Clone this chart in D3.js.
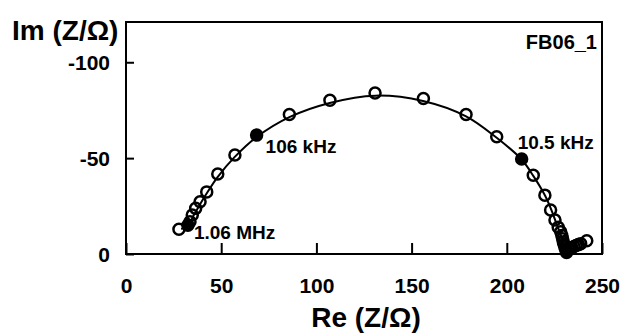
<!DOCTYPE html>
<html>
<head>
<meta charset="utf-8">
<script src="https://cdn.jsdelivr.net/npm/d3@7"></script>
<style>
  html, body { margin: 0; padding: 0; background: #fff; }
  svg { display: block; font-family: "Liberation Sans", Arial, sans-serif; font-weight: bold; }
</style>
</head>
<body>
<svg id="chart" width="628" height="333"></svg>
<script>
// Nyquist plot of sample FB06_1: measured impedance (open circles) and fitted curve.
// Values are Re(Z) and -Im(Z) in ohms.
const measRe = [27.8, 33.6, 34.8, 36.6, 38.9, 42.4, 48.2, 57.2, 85.8, 107.1, 130.8, 156.2, 178.6, 194.7,
                213.9, 220.0, 223.0, 225.3, 227.0, 228.3, 228.9, 229.3, 229.7, 230.1, 230.5, 230.9,
                231.6, 232.6, 233.4, 234.2, 235.3, 236.4, 237.6, 238.8, 242.0];
const measIm = [12.9, 16.8, 20.3, 23.8, 27.2, 32.4, 41.7, 51.6, 72.8, 80.2, 84.0, 81.1, 72.8, 61.1,
                41.1, 30.7, 22.9, 17.7, 13.9, 11.6, 9.6, 7.9, 6.3, 4.9, 3.6, 2.4,
                1.8, 2.6, 3.0, 3.4, 3.9, 4.4, 4.9, 5.4, 6.9];

// Decade frequencies marked with filled dots
const markRe = [32.5, 68.6, 207.8, 231.4];
const markIm = [15.0, 62.0, 49.5, 0.8];
const markLabels = ["1.06 MHz", "106 kHz", "10.5 kHz", ""];

// Fitted equivalent-circuit curve
const fitRe = [29.0, 32.5, 36.0, 42.0, 48.0, 57.0, 68.6, 85.8, 107.0, 131.0, 156.0, 178.6, 194.7,
               207.8, 214.0, 220.0, 223.5, 226.0, 228.3, 230.2, 231.4];
const fitIm = [13.0, 15.0, 21.0, 31.0, 40.0, 50.5, 61.0, 71.4, 78.8, 82.6, 79.8, 71.8, 60.6,
               49.3, 40.6, 30.6, 22.8, 16.0, 10.0, 4.5, 0.8];

const xTicks = [0, 50, 100, 150, 200, 250];
const yTicks = [0, 50, 100];
const sampleName = "FB06_1";

const margin = { left: 126, top: 22, right: 26, bottom: 79 };
const W = 628, H = 333;
const svg = d3.select("#chart");

const x = d3.scaleLinear().domain([0, 250]).range([margin.left, W - margin.right]);
const y = d3.scaleLinear().domain([0, 121]).range([H - margin.bottom, margin.top]);

// Frame
svg.append("rect")
  .attr("x", x(0)).attr("y", y(121))
  .attr("width", x(250) - x(0)).attr("height", y(0) - y(121))
  .attr("fill", "none").attr("stroke", "#000").attr("stroke-width", 2);

// Axes with inward ticks
const xAxis = svg.append("g")
  .attr("transform", `translate(0,${y(0)})`)
  .call(d3.axisBottom(x).tickValues(xTicks).tickSizeInner(-11).tickSizeOuter(0).tickPadding(24));
const yAxis = svg.append("g")
  .attr("transform", `translate(${x(0)},0)`)
  .call(d3.axisLeft(y).tickValues(yTicks).tickSizeInner(-8).tickSizeOuter(0).tickPadding(16)
        .tickFormat(d => d === 0 ? "0" : "-" + d));
[xAxis, yAxis].forEach(g => {
  g.select(".domain").remove();
  g.selectAll(".tick line").attr("stroke", "#000").attr("stroke-width", 2);
  g.selectAll(".tick text").attr("fill", "#000").style("font-size", "21px")
    .style("font-family", "'Liberation Sans', Arial, sans-serif").style("font-weight", "bold");
});
yAxis.selectAll(".tick text").attr("dy", "0.36em");

// Axis titles
svg.append("text").attr("x", 12).attr("y", 40).attr("font-size", 28).text("Im (Z/Ω)");
svg.append("text").attr("x", (x(0) + x(250)) / 2 + 2).attr("y", 327).attr("text-anchor", "middle")
  .attr("font-size", 28).text("Re (Z/Ω)");

// Sample name
svg.append("text").attr("x", 597).attr("y", 49).attr("text-anchor", "end")
  .attr("font-size", 20).text(sampleName);

// Fitted curve
const fitPts = fitRe.map((r, i) => [r, fitIm[i]]);
svg.append("path")
  .datum(fitPts)
  .attr("d", d3.line().x(d => x(d[0])).y(d => y(d[1])).curve(d3.curveCatmullRom))
  .attr("fill", "none").attr("stroke", "#000").attr("stroke-width", 2);

// Measured points
const measPts = measRe.map((r, i) => [r, measIm[i]]);
svg.append("g").selectAll("circle").data(measPts).join("circle")
  .attr("cx", d => x(d[0])).attr("cy", d => y(d[1])).attr("r", 5.5)
  .attr("fill", "none").attr("stroke", "#000").attr("stroke-width", 2.5);

// Decade markers
const marks = markRe.map((r, i) => ({ re: r, im: markIm[i], label: markLabels[i] }));
svg.append("g").selectAll("circle").data(marks).join("circle")
  .attr("cx", d => x(d.re)).attr("cy", d => y(d.im)).attr("r", 5.5)
  .attr("fill", "#000").attr("stroke", "#000").attr("stroke-width", 2.5);

const labelOffset = [[6, 14], [9, 18], [-4, -10], [0, 0]];
svg.append("g").selectAll("text").data(marks).join("text")
  .attr("x", (d, i) => x(d.re) + labelOffset[i][0])
  .attr("y", (d, i) => y(d.im) + labelOffset[i][1])
  .attr("font-size", 19)
  .text(d => d.label);
</script>
</body>
</html>
